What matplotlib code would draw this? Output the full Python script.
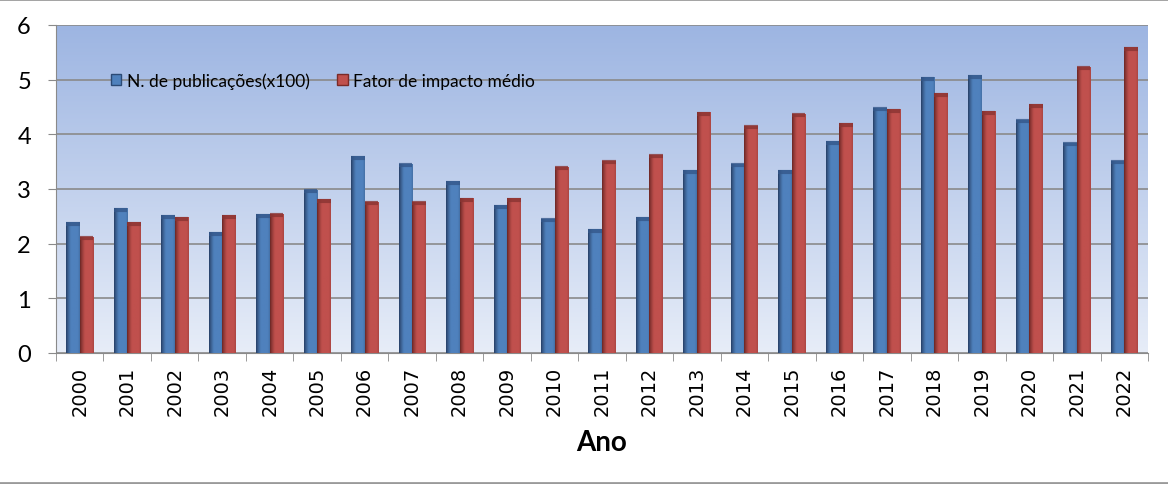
import matplotlib
matplotlib.use("Agg")
import matplotlib.pyplot as plt
import numpy as np
from matplotlib.patches import Patch
from matplotlib.lines import Line2D

anos = ["2000", "2001", "2002", "2003", "2004", "2005", "2006", "2007", "2008", "2009", "2010", "2011",
        "2012", "2013", "2014", "2015", "2016", "2017", "2018", "2019", "2020", "2021", "2022"]
publicacoes = [2.39, 2.65, 2.52, 2.21, 2.54, 2.99, 3.60, 3.46, 3.14, 2.70, 2.46, 2.26,
               2.48, 3.34, 3.46, 3.34, 3.87, 4.49, 5.04, 5.08, 4.27, 3.85, 3.51]
fator_impacto = [2.13, 2.39, 2.48, 2.52, 2.55, 2.81, 2.77, 2.76, 2.83, 2.83, 3.41, 3.51,
                 3.62, 4.40, 4.16, 4.38, 4.20, 4.46, 4.75, 4.42, 4.55, 5.23, 5.59]
yticks = [0, 1, 2, 3, 4, 5, 6]

plt.rcParams['font.family'] = ['Lato', 'DejaVu Sans']

fig = plt.figure(figsize=(11.68, 4.85), dpi=100)
ax = fig.add_axes([56/1168, 1 - 354/485, 1092/1168, 328/485])

# background gradient (darker blue on top, almost white at bottom)
top = np.array([157, 181, 226]) / 255
bot = np.array([231, 237, 248]) / 255
t = np.linspace(0, 1, 256)[:, None]
bg = (top * (1 - t) + bot * t)[:, None, :]
ax.imshow(bg, extent=[0, 1, 0, 1], transform=ax.transAxes, aspect='auto', zorder=0)

for y in yticks:
    ax.axhline(y, color='#8a8a8a', lw=1.2, zorder=1)


def shade(base, dark):
    base = np.array(base) / 255
    dark = np.array(dark) / 255
    s = np.linspace(0, 1, 40)
    w = np.clip(s / 0.35, 0, 1) ** 0.8
    w = np.minimum(w, 1 - 0.25 * np.clip((s - 0.85) / 0.15, 0, 1))
    g = dark[None, :] * (1 - w[:, None]) + base[None, :] * w[:, None]
    return g[None, :, :]


x = np.arange(len(anos))
bw = 0.285
blue_img = shade((79, 129, 189), (38, 62, 100))
red_img = shade((192, 80, 77), (105, 38, 36))
b1 = ax.bar(x - bw / 2, publicacoes, bw, color='#4F81BD', zorder=2)
b2 = ax.bar(x + bw / 2, fator_impacto, bw, color='#C0504D', zorder=2)
for bars, img, dk in [(b1, blue_img, '#34578a'), (b2, red_img, '#8a3432')]:
    for p in bars:
        x0, h, w = p.get_x(), p.get_height(), p.get_width()
        im = ax.imshow(img, extent=[x0, x0 + w, 0, h], aspect='auto', zorder=3)
        im.set_clip_path(p)
        ax.plot([x0, x0 + w], [h - 0.025, h - 0.025], color=dk, lw=3, zorder=4,
                solid_capstyle='butt', alpha=0.8)

ax.set_xlim(-0.5, len(anos) - 0.5)
ax.set_ylim(0, 6)
ax.set_yticks(yticks)
ax.set_yticklabels([str(v) for v in yticks], fontsize=17)
ax.set_xticks(x)
ax.set_xticklabels(anos, rotation=90, fontsize=14, family=['DejaVu Sans'])
ax.set_xticks(np.arange(-0.5, len(anos)), minor=True)
ax.tick_params(axis='x', which='major', length=0, pad=9)
ax.tick_params(axis='x', which='minor', length=6, color='#8a8a8a', direction='out')
ax.tick_params(axis='y', length=6, color='#8a8a8a', pad=12)

for s in ['top', 'right']:
    ax.spines[s].set_visible(False)
ax.spines['left'].set_color('#8a8a8a')
ax.spines['bottom'].set_color('#8a8a8a')

ax.set_xlabel('Ano', fontsize=20, fontweight='bold', labelpad=10)

handles = [Patch(facecolor='#4F81BD', edgecolor='#2c4a75'),
           Patch(facecolor='#C0504D', edgecolor='#7a2a28')]
ax.legend(handles, ['N. de publicações(x100)', 'Fator de impacto médio'], ncol=2,
          frameon=False, fontsize=12.5, loc='center left', bbox_to_anchor=(0.036, 0.83),
          handlelength=0.6, handleheight=0.6, handletextpad=0.3, columnspacing=1.6)

fig.add_artist(Line2D([0, 1], [0.999, 0.999], color='#9a9a9a', lw=2, transform=fig.transFigure))
fig.add_artist(Line2D([0, 1], [0.003, 0.003], color='#9a9a9a', lw=2, transform=fig.transFigure))

fig.savefig('out.png', dpi=100)
